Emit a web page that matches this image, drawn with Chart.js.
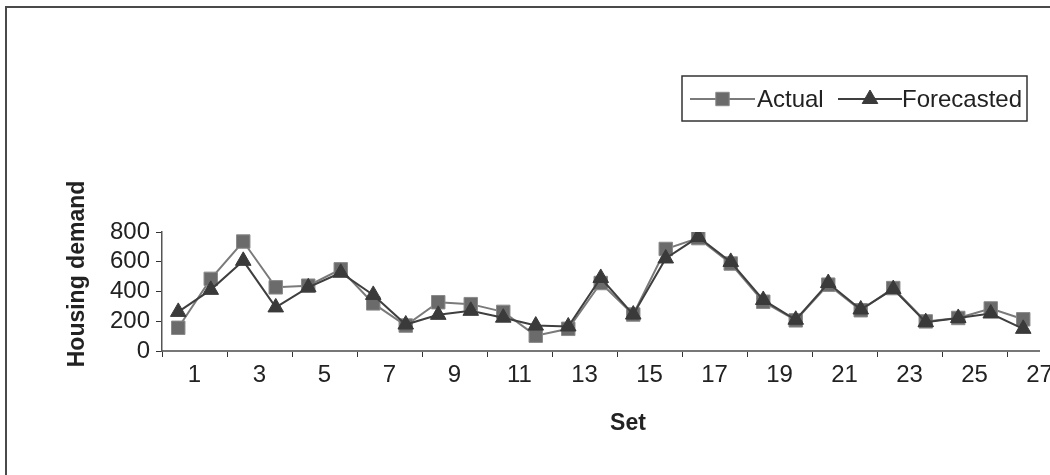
<!DOCTYPE html>
<html>
<head>
<meta charset="utf-8">
<script src="https://cdn.jsdelivr.net/npm/chart.js@4/dist/chart.umd.min.js"></script>
<style>
html, body { margin: 0; padding: 0; background: #fff; }
#wrap { position: relative; width: 1050px; height: 475px; }
</style>
</head>
<body>
<div id="wrap"><canvas id="chart1" width="1050" height="475"></canvas></div>
<script>
// data
const sets = [1, 2, 3, 4, 5, 6, 7, 8, 9, 10, 11, 12, 13, 14, 15, 16, 17, 18, 19, 20, 21, 22, 23, 24, 25, 26, 27];
const actual = [156, 485, 736, 428, 439, 549, 320, 171, 328, 315, 263, 103, 149, 457, 245, 686, 759, 588, 331, 206, 446, 274, 423, 199, 222, 286, 213];
const forecasted = [263, 411, 606, 293, 428, 526, 377, 178, 243, 270, 224, 171, 165, 491, 245, 622, 766, 599, 343, 210, 457, 279, 416, 194, 222, 252, 149];
const xLabels = [1, 3, 5, 7, 9, 11, 13, 15, 17, 19, 21, 23, 25, 27];
const yMax = 800;
const yStep = 200;

const FONT = '"Liberation Sans", Arial, sans-serif';
Chart.defaults.font.family = FONT;
Chart.defaults.color = '#222';

// points sit in the middle of each set slot
function toPoints(vals) {
    return vals.map((v, i) => ({ x: sets[i] - 0.5, y: v }));
}

function drawMarker(ctx, style, x, y, r, fill, stroke) {
    ctx.save();
    ctx.fillStyle = fill;
    ctx.strokeStyle = stroke;
    ctx.lineWidth = 1;
    ctx.beginPath();
    if (style == 'rect') {
        const s = r * Math.SQRT1_2;
        ctx.rect(x - s, y - s, 2 * s, 2 * s);
    } else {
        ctx.moveTo(x, y - r);
        ctx.lineTo(x + r * 0.866, y + r * 0.5);
        ctx.lineTo(x - r * 0.866, y + r * 0.5);
        ctx.closePath();
    }
    ctx.fill();
    ctx.stroke();
    ctx.restore();
}

const extras = {
    id: 'extras',
    beforeDraw(chart) {
        const ctx = chart.ctx;
        ctx.save();
        ctx.fillStyle = '#fff';
        ctx.fillRect(0, 0, chart.width, chart.height);
        // outer frame (only top and left show)
        ctx.strokeStyle = '#4a4a4a';
        ctx.lineWidth = 2;
        ctx.beginPath();
        ctx.moveTo(6, 1100);
        ctx.lineTo(6, 7);
        ctx.lineTo(1100, 7);
        ctx.stroke();
        ctx.restore();
    },
    afterDraw(chart) {
        const ctx = chart.ctx;
        ctx.save();
        // axis titles
        ctx.fillStyle = '#222';
        ctx.font = 'bold 23px ' + FONT;
        ctx.textAlign = 'center';
        ctx.textBaseline = 'alphabetic';
        ctx.fillText('Set', 628, 430);
        ctx.translate(84, 274);
        ctx.rotate(-Math.PI / 2);
        ctx.fillText('Housing demand', 0, 0);
        ctx.restore();

        // legend box
        ctx.save();
        ctx.strokeStyle = '#333';
        ctx.lineWidth = 1.5;
        ctx.strokeRect(682, 76, 345, 45);
        const ly = 99;
        const items = [
            { ds: chart.data.datasets[0], x1: 690, x2: 755, tx: 757 },
            { ds: chart.data.datasets[1], x1: 838, x2: 902, tx: 902 }
        ];
        ctx.font = '24px ' + FONT;
        ctx.textBaseline = 'alphabetic';
        ctx.textAlign = 'left';
        items.forEach(it => {
            ctx.strokeStyle = it.ds.borderColor;
            ctx.lineWidth = it.ds.borderWidth;
            ctx.beginPath();
            ctx.moveTo(it.x1, ly);
            ctx.lineTo(it.x2, ly);
            ctx.stroke();
            drawMarker(ctx, it.ds.pointStyle, (it.x1 + it.x2) / 2, ly, it.ds.pointRadius,
                it.ds.pointBackgroundColor, it.ds.pointBorderColor);
            ctx.fillStyle = '#222';
            ctx.fillText(it.ds.label, it.tx, 107);
        });
        ctx.restore();
    }
};

new Chart(document.getElementById('chart1'), {
    type: 'line',
    data: {
        datasets: [{
            label: 'Actual',
            data: toPoints(actual),
            borderColor: '#7a7a7a',
            borderWidth: 2,
            pointStyle: 'rect',
            pointRadius: 9.5,
            pointBackgroundColor: '#6b6b6b',
            pointBorderColor: '#8a8a8a',
            pointBorderWidth: 1,
            order: 1
        }, {
            label: 'Forecasted',
            data: toPoints(forecasted),
            borderColor: '#3f3f3f',
            borderWidth: 2,
            pointStyle: 'triangle',
            pointRadius: 9,
            pointBackgroundColor: '#3a3a3a',
            pointBorderColor: '#3a3a3a',
            pointBorderWidth: 1,
            order: 0
        }]
    },
    options: {
        responsive: false,
        animation: false,
        devicePixelRatio: 1,
        layout: { padding: { top: 232, right: 8, left: 0, bottom: 0 } },
        plugins: {
            legend: { display: false },
            tooltip: { enabled: false }
        },
        scales: {
            x: {
                type: 'linear',
                min: 0,
                max: sets.length,
                afterFit: s => { s.height = 124; s.paddingLeft = 0; s.paddingRight = 0; },
                border: { color: '#777', width: 2 },
                grid: {
                    drawOnChartArea: false,
                    tickLength: 6,
                    color: c => (c.tick && c.tick.value % 2 === 0) ? '#333' : 'rgba(0,0,0,0)'
                },
                ticks: {
                    stepSize: 1,
                    autoSkip: false,
                    maxRotation: 0,
                    padding: 4,
                    font: { size: 24 },
                    color: '#222',
                    callback: v => xLabels.includes(v) ? String(v) : ''
                }
            },
            y: {
                min: 0,
                max: yMax,
                afterFit: s => { s.width = 162; s.paddingTop = 0; s.paddingBottom = 0; },
                border: { color: '#555', width: 1.5 },
                grid: { drawOnChartArea: false, tickLength: 6, color: '#333' },
                ticks: {
                    stepSize: yStep,
                    autoSkip: false,
                    padding: 6,
                    font: { size: 24, lineHeight: 1 },
                    color: '#222'
                }
            }
        }
    },
    plugins: [extras]
});
</script>
</body>
</html>
